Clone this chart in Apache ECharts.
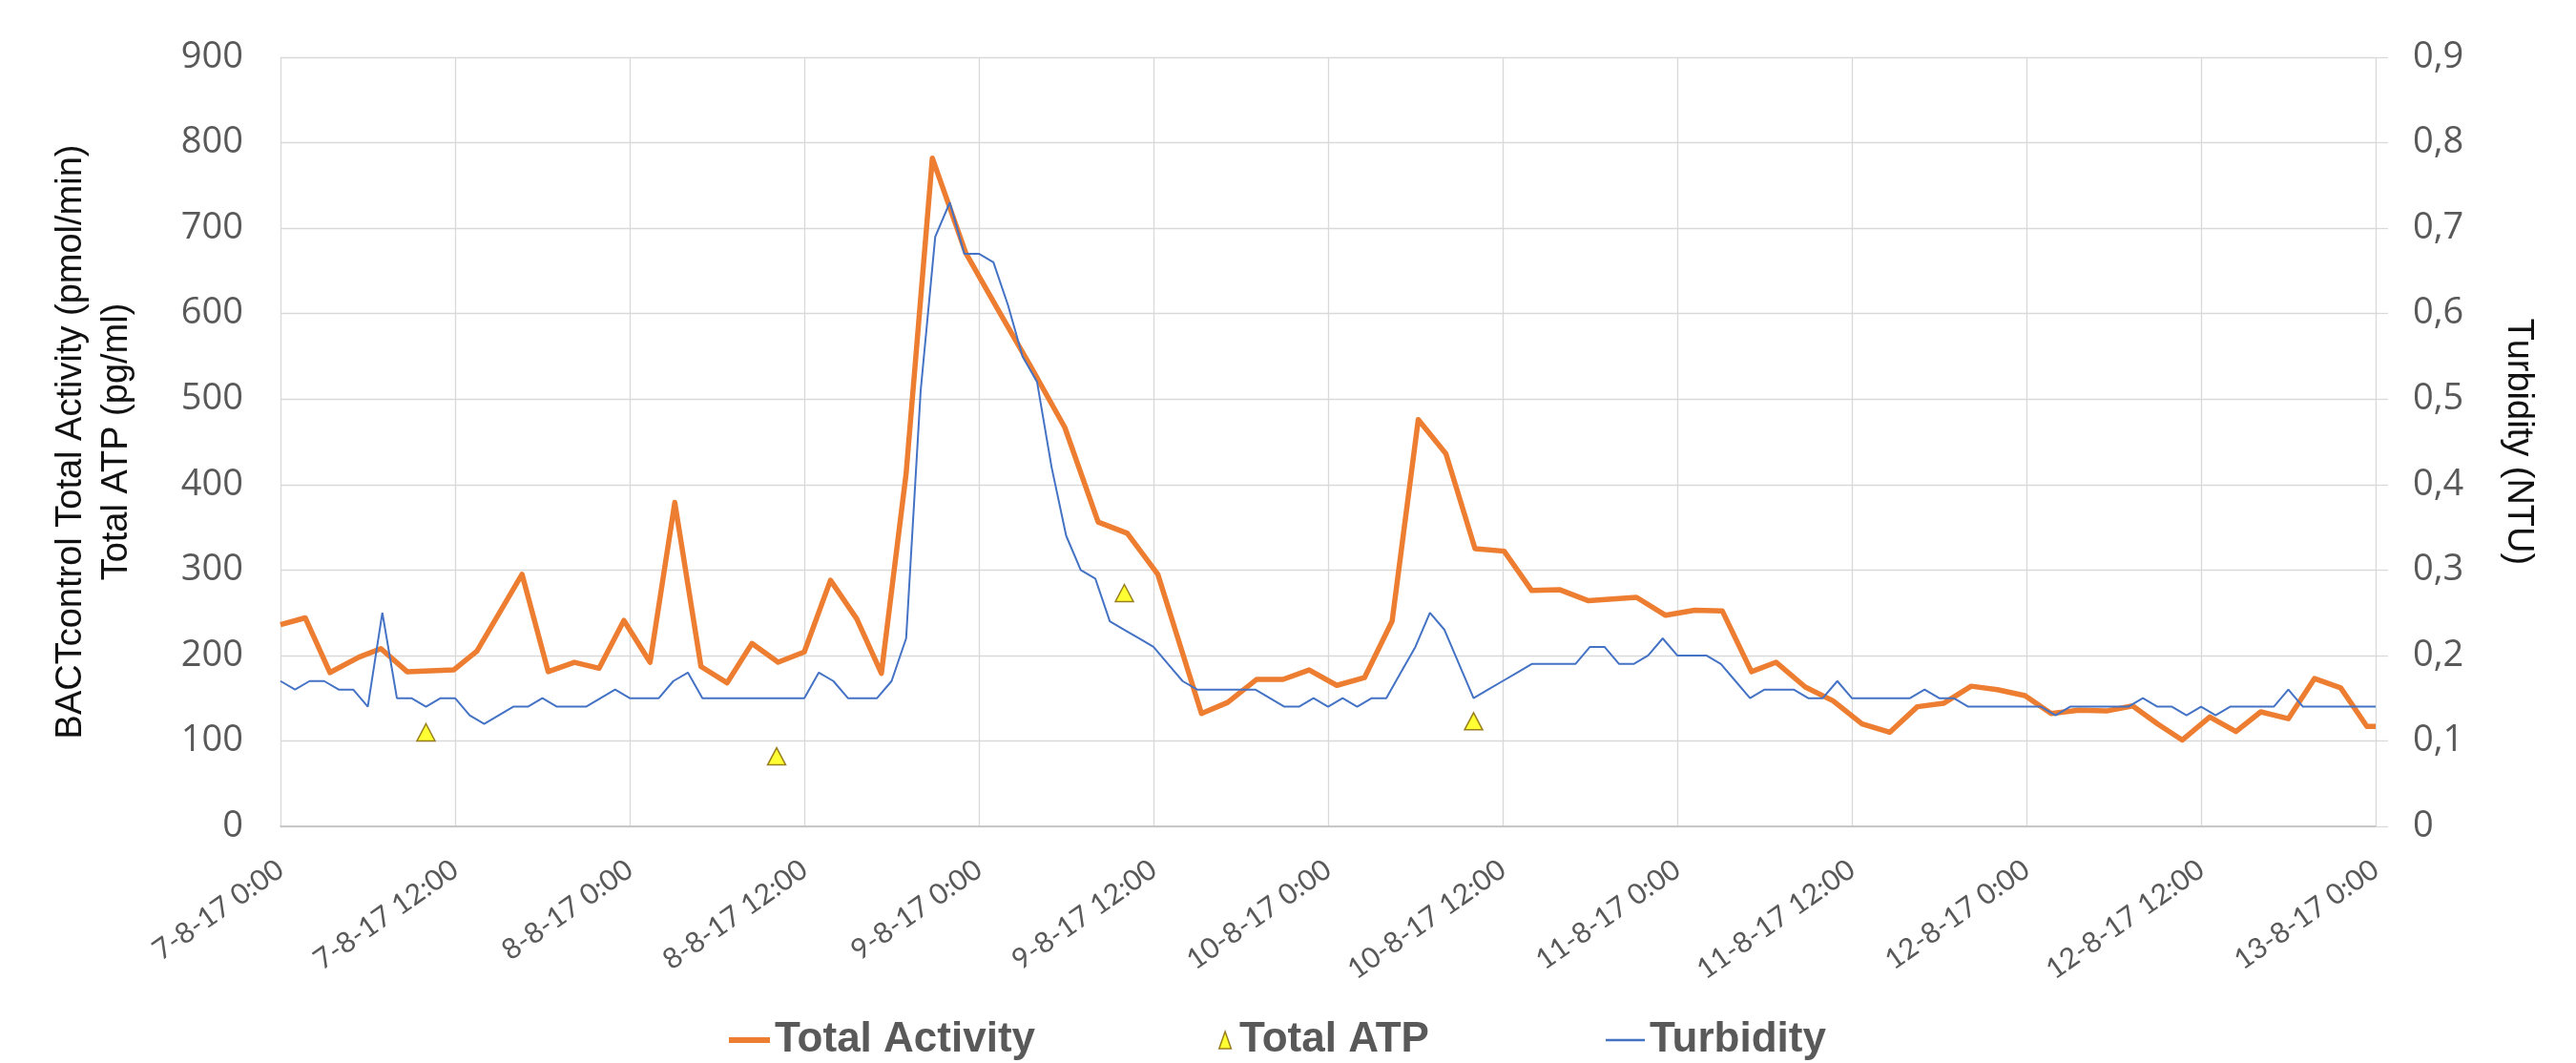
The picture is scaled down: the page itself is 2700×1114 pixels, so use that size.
<!DOCTYPE html>
<html>
<head>
<meta charset="utf-8">
<script src="https://cdn.jsdelivr.net/npm/echarts@6/dist/echarts.min.js"></script>
<style>
html,body{margin:0;padding:0;background:#fff;}
#chart{width:2700px;height:1114px;}
</style>
</head>
<body>
<div id="chart"></div>
<script>
// Hours since 7-8-17 0:00
const xTickLabels = ['7-8-17 0:00','7-8-17 12:00','8-8-17 0:00','8-8-17 12:00','9-8-17 0:00','9-8-17 12:00','10-8-17 0:00','10-8-17 12:00','11-8-17 0:00','11-8-17 12:00','12-8-17 0:00','12-8-17 12:00','13-8-17 0:00'];
const leftTickLabels = ['0','100','200','300','400','500','600','700','800','900'];
const rightTickLabels = ['0','0,1','0,2','0,3','0,4','0,5','0,6','0,7','0,8','0,9'];

const activityHours = [0,1.7,3.4,5.4,6.9,8.7,11.9,13.5,16.6,18.4,20.2,21.9,23.6,25.4,27.1,28.9,30.7,32.4,34.2,36.0,37.8,39.6,41.3,43.0,44.8,47.1,49.3,51.6,53.9,56.2,58.2,60.3,63.3,65.1,67.1,68.9,70.7,72.6,74.5,76.4,78.2,80.1,82.1,84.1,86.0,87.9,89.9,93.2,95.2,97.2,99.1,101.1,102.8,104.8,106.7,108.7,110.6,112.5,114.3,116.2,118.0,119.9,121.7,123.6,125.5,127.3,129.0,130.7,132.6,134.4,136.1,138.0,139.8,141.6,143.4,144.0];
const activityValues = [236,244,180,198,208,181,183,205,295,181,192,185,241,192,379,187,168,214,192,204,288,243,179,413,782,671,605,537,467,356,343,295,132,145,172,172,183,165,174,240,476,436,325,322,276,277,264,268,247,253,252,181,192,163,147,120,110,140,144,164,160,153,132,136,135,141,120,101,128,111,134,126,173,162,117,117];

const atpHours = [10.0,34.1,58.0,82.0];
const atpValues = [110,82,273,123];

// hourly samples from hour 0 to hour 144
const turbidityValues = [
0.17,0.16,0.17,0.17,0.16,0.16,0.14,0.25,0.15,0.15,0.14,0.15,
0.15,0.13,0.12,0.13,0.14,0.14,0.15,0.14,0.14,0.14,0.15,0.16,
0.15,0.15,0.15,0.17,0.18,0.15,0.15,0.15,0.15,0.15,0.15,0.15,
0.15,0.18,0.17,0.15,0.15,0.15,0.17,0.22,0.51,0.69,0.73,0.67,
0.67,0.66,0.61,0.55,0.52,0.42,0.34,0.30,0.29,0.24,0.23,0.22,
0.21,0.19,0.17,0.16,0.16,0.16,0.16,0.16,0.15,0.14,0.14,0.15,
0.14,0.15,0.14,0.15,0.15,0.18,0.21,0.25,0.23,0.19,0.15,0.16,
0.17,0.18,0.19,0.19,0.19,0.19,0.21,0.21,0.19,0.19,0.20,0.22,
0.20,0.20,0.20,0.19,0.17,0.15,0.16,0.16,0.16,0.15,0.15,0.17,
0.15,0.15,0.15,0.15,0.15,0.16,0.15,0.15,0.14,0.14,0.14,0.14,
0.14,0.14,0.13,0.14,0.14,0.14,0.14,0.14,0.15,0.14,0.14,0.13,
0.14,0.13,0.14,0.14,0.14,0.14,0.16,0.14,0.14,0.14,0.14,0.14,
0.14];

const activityData = activityHours.map((h,i)=>[h, activityValues[i]]);
const atpData = atpHours.map((h,i)=>[h, atpValues[i]]);
const turbidityData = turbidityValues.map((v,i)=>[i, v]);

const chart = echarts.init(document.getElementById('chart'));
const tickColor = '#595959';
const legendText = {color: tickColor, fontFamily: 'Liberation Sans', fontSize: 44, fontWeight: 'bold', lineHeight: 44};
chart.setOption({
  animation: false,
  backgroundColor: '#ffffff',
  grid: {left: 294, right: 210, top: 60, bottom: 248, containLabel: false},
  xAxis: {
    type: 'value', min: 0, max: 144, interval: 12,
    axisLine: {show: true, lineStyle: {color: '#bfbfbf', width: 1.5}},
    axisTick: {show: false},
    splitLine: {show: true, lineStyle: {color: '#d9d9d9', width: 1.3}},
    axisLabel: {
      rotate: 35, margin: 42, color: tickColor, fontFamily: 'Lato', fontSize: 30,
      formatter: v => xTickLabels[Math.round(v/12)]
    }
  },
  yAxis: [
    {
      type: 'value', min: 0, max: 900, interval: 100, position: 'left',
      axisLine: {show: false}, axisTick: {show: false},
      splitLine: {show: true, lineStyle: {color: '#d9d9d9', width: 1.3}},
      axisLabel: {margin: 39, color: tickColor, fontFamily: 'Open Sans', fontSize: 38,
        formatter: v => leftTickLabels[Math.round(v/100)]},
      name: 'BACTcontrol Total Activity (pmol/min)\nTotal ATP (pg/ml)',
      nameLocation: 'middle', nameRotate: 90, nameGap: 147,
      nameTextStyle: {color: '#111111', fontFamily: 'Liberation Sans', fontSize: 38, lineHeight: 48, align: 'center'}
    },
    {
      type: 'value', min: 0, max: 0.9, interval: 0.1, position: 'right',
      axisLine: {show: false},
      axisTick: {show: true, length: 13, lineStyle: {color: '#d9d9d9', width: 1.3}},
      splitLine: {show: false},
      axisLabel: {margin: 39, color: tickColor, fontFamily: 'Open Sans', fontSize: 38,
        formatter: v => rightTickLabels[Math.round(v*10)]},
      name: 'Turbidity (NTU)',
      nameLocation: 'middle', nameRotate: -90, nameGap: 130,
      nameTextStyle: {color: '#111111', fontFamily: 'Liberation Sans', fontSize: 38}
    }
  ],
  legend: [
    {
      left: 759, top: 1063, itemWidth: 43, itemHeight: 18, textStyle: legendText,
      data: [{name: 'Total Activity', icon: 'path://M0,0 L43,0 L43,6 L0,6 Z', itemStyle: {color: '#ED7D31', borderWidth: 0}}]
    },
    {
      left: 1272, top: 1063, itemWidth: 20, itemHeight: 18, textStyle: legendText,
      data: [{name: 'Total ATP', icon: 'path://M6,0 L12,17 L0,17 Z', itemStyle: {color: '#FFFF00', borderColor: '#7F6000', borderWidth: 1.5}}]
    },
    {
      left: 1678, top: 1063, itemWidth: 41, itemHeight: 18, textStyle: legendText,
      data: [{name: 'Turbidity', icon: 'path://M0,0 L41,0 L41,2.5 L0,2.5 Z', itemStyle: {color: '#4472C4', borderWidth: 0}}]
    }
  ],
  series: [
    {
      name: 'Total Activity', type: 'line', yAxisIndex: 0, data: activityData,
      symbol: 'none', lineStyle: {color: '#ED7D31', width: 5.5, join: 'round'},
      itemStyle: {color: '#ED7D31'}, z: 2
    },
    {
      name: 'Total ATP', type: 'scatter', yAxisIndex: 0, data: atpData,
      symbol: 'triangle', symbolSize: [19, 18],
      itemStyle: {color: '#FFFF00', borderColor: '#7F6000', borderWidth: 1.5}, z: 4
    },
    {
      name: 'Turbidity', type: 'line', yAxisIndex: 1, data: turbidityData,
      symbol: 'none', lineStyle: {color: '#4472C4', width: 2},
      itemStyle: {color: '#4472C4'}, z: 3
    }
  ]
});
</script>
</body>
</html>
